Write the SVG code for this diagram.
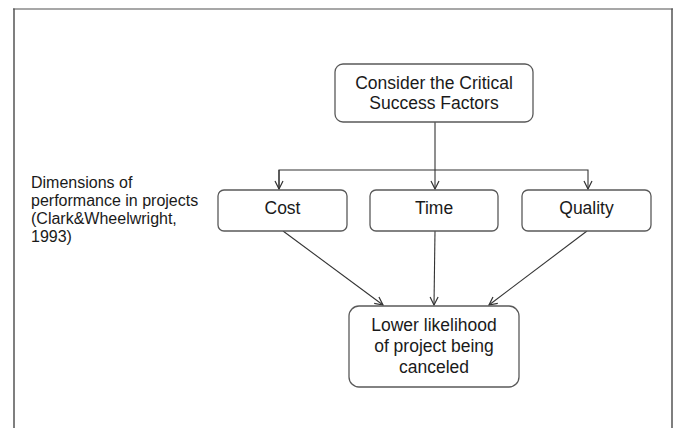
<svg xmlns="http://www.w3.org/2000/svg" width="674" height="428" viewBox="0 0 674 428">
<style>
.box{fill:#fff;stroke:#595959;stroke-width:1.3}
.t{font-family:"Liberation Sans",Arial,sans-serif;font-size:17.5px;fill:#1a1a1a;text-anchor:middle}
.lbl{font-family:"Liberation Sans",Arial,sans-serif;font-size:16px;fill:#1a1a1a}
.c{fill:none;stroke:#333;stroke-width:1.1}
</style>
<defs>
<marker id="ah" viewBox="0 0 10 10" refX="9" refY="5" markerWidth="10" markerHeight="10" markerUnits="userSpaceOnUse" orient="auto">
<path d="M1,1 L9,5 L1,9" fill="none" stroke="#333" stroke-width="1.2"/>
</marker>
</defs>
<rect width="674" height="428" fill="#fff"/>
<g id="frame">
<line x1="13" y1="9" x2="673" y2="9" stroke="#8a8a8a" stroke-width="1.5"/>
<line x1="14" y1="8.5" x2="14" y2="428" stroke="#555" stroke-width="1.5"/>
<line x1="672" y1="8.5" x2="672" y2="428" stroke="#555" stroke-width="1.5"/>
</g>
<g id="connectors">
<line class="c" x1="435" y1="122" x2="435" y2="189" marker-end="url(#ah)"/>
<polyline class="c" points="279,189 279,170 588,170 588,189" marker-end="url(#ah)"/>
<path class="c" d="M279,170 L279,189" marker-end="url(#ah)"/>
<line class="c" x1="283" y1="231" x2="383" y2="305" marker-end="url(#ah)"/>
<line class="c" x1="435" y1="231" x2="434" y2="305" marker-end="url(#ah)"/>
<line class="c" x1="587" y1="231" x2="489" y2="305" marker-end="url(#ah)"/>
</g>
<g id="csf">
<rect class="box" x="335" y="64" width="198" height="58" rx="8"/>
<text class="t" x="434" y="89">Consider the Critical</text>
<text class="t" x="434" y="109">Success Factors</text>
</g>
<g id="label">
<text class="lbl" x="31" y="188">Dimensions of</text>
<text class="lbl" x="31" y="206">performance in projects</text>
<text class="lbl" x="31" y="224">(Clark&amp;Wheelwright,</text>
<text class="lbl" x="31" y="242">1993)</text>
</g>
<g id="cost">
<rect class="box" x="218" y="190" width="129" height="41" rx="6"/>
<text class="t" x="282.5" y="214">Cost</text>
</g>
<g id="time">
<rect class="box" x="370" y="190" width="128" height="41" rx="6"/>
<text class="t" x="434" y="214">Time</text>
</g>
<g id="quality">
<rect class="box" x="522" y="190" width="129" height="41" rx="6"/>
<text class="t" x="586.5" y="214">Quality</text>
</g>
<g id="outcome">
<rect class="box" x="349" y="306" width="170" height="81" rx="10"/>
<text class="t" x="434" y="331">Lower likelihood</text>
<text class="t" x="434" y="352">of project being</text>
<text class="t" x="434" y="373">canceled</text>
</g>
</svg>
